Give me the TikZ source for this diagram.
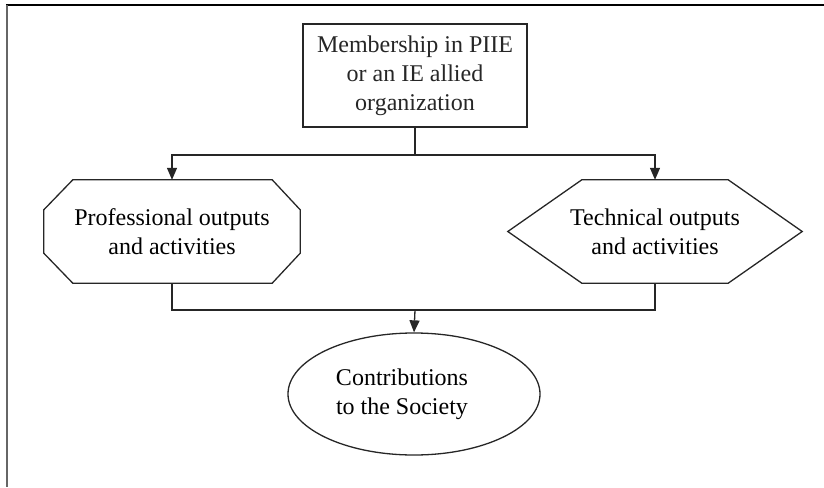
\documentclass[tikz,border=0pt]{standalone}
\usepackage{fontspec}
\setmainfont{Liberation Serif}
\usetikzlibrary{shapes.geometric,arrows.meta}
\begin{document}
\begin{tikzpicture}[x=1pt,y=-1pt,
  every node/.style={font=\fontsize{24}{29}\selectfont, align=center, inner sep=0pt},
  ln/.style={line width=1.3pt, black!85},
  arr/.style={ln, -{Triangle[length=12pt,width=10pt]}},
  boxed/.style={draw, line width=1.5pt, black!85, minimum width=224pt, minimum height=103pt},
  frame/.style={line width=2pt}
]
\useasboundingbox (0,0) rectangle (824,487);
% frame
\draw[frame, black] (6,5) -- (824,5);
\draw[frame, black!60] (7,5) -- (7,487);
% top box
\node[boxed] (M) at (415,75.5) {Membership in PIIE\\or an IE allied\\organization};
% octagon (professional)
\node[minimum width=256pt, minimum height=103pt] (P) at (172,231.5) {Professional outputs\\and activities};
\draw[ln] ([xshift=29pt]P.north west) -- ([xshift=-28pt]P.north east)
  -- ([yshift=-30pt]P.north east) -- ([yshift=30pt]P.south east)
  -- ([xshift=-28pt]P.south east) -- ([xshift=29pt]P.south west)
  -- ([yshift=30pt]P.south west) -- ([yshift=-30pt]P.north west) -- cycle;
% hexagon (technical)
\node[minimum width=294pt, minimum height=103pt] (T) at (655,231.5) {Technical outputs\\and activities};
\draw[ln] (T.west) -- ([xshift=74pt]T.north west) -- ([xshift=-74pt]T.north east)
  -- (T.east) -- ([xshift=-74pt]T.south east) -- ([xshift=74pt]T.south west) -- cycle;
% ellipse
\node[draw, ellipse, line width=1.3pt, black!85, minimum width=252pt, minimum height=122pt] (C) at (414,394) {};
\node (Ct) at (402,394) {Contributions\\to the Society};
% connectors
\coordinate (j) at (415,155);
\coordinate (k) at (415,310);
\draw[ln] (M.south) -- (j);
\draw[arr] (j) -| (P.north);
\draw[arr] (j) -| (T.north);
\draw[ln] (P.south) |- (k);
\draw[ln] (T.south) |- (k);
\draw[arr] (k) -- (C.north);
\end{tikzpicture}
\end{document}
